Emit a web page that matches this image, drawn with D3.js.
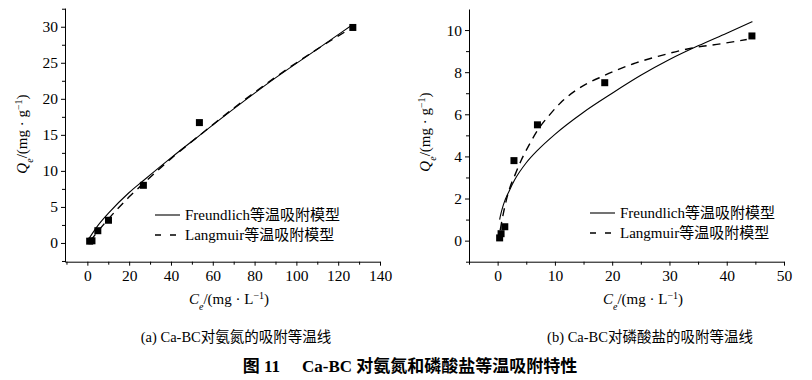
<!DOCTYPE html>
<html>
<head>
<meta charset="utf-8">
<script src="https://cdn.jsdelivr.net/npm/d3@7/dist/d3.min.js"></script>
<style>
  body { margin: 0; background: #fff; }
  svg text { font-family: "Liberation Serif", "Times New Roman", "Noto Sans CJK SC", serif; fill: #000; }
</style>
</head>
<body>
<div id="wrapper"></div>
<script>
// (a) ammonia nitrogen
const nitrogenCe = [1.1, 2.2, 5.0, 10.1, 26.8, 53.6, 127.0]
const nitrogenQe = [0.25, 0.3, 1.7, 3.15, 8.0, 16.7, 29.9]
const nFreundCe = [1, 5, 10, 20, 27, 40, 54, 70, 90, 110, 127]
const nFreundQe = [0.7, 2.4, 4.1, 7.0, 8.7, 11.8, 15.0, 18.6, 22.9, 26.9, 30.3]
const nLangCe = [1.5, 5, 10, 20, 27, 40, 54, 70, 90, 110, 125]
const nLangQe = [0.3, 1.6, 3.3, 6.4, 8.3, 11.7, 15.0, 18.7, 23.0, 26.9, 29.6]

// (b) phosphate
const phosphateCe = [0.35, 0.6, 1.25, 2.85, 6.95, 18.7, 44.4]
const phosphateQe = [0.13, 0.33, 0.66, 3.8, 5.5, 7.5, 9.72]
const pFreundCe = [0.35, 0.5, 1, 2, 3, 5, 7, 10, 15, 20, 25, 30, 35, 40, 44.5]
const pFreundQe = [1.0, 1.2, 1.7, 2.35, 2.9, 3.7, 4.3, 5.05, 6.1, 7.0, 7.85, 8.6, 9.25, 9.85, 10.4]
const pLangCe = [0.45, 1, 2, 3, 4, 5.5, 7, 9, 11, 14, 18.7, 23.7, 28, 34, 39, 43.5]
const pLangQe = [0.5, 1.3, 2.4, 3.1, 3.75, 4.55, 5.25, 5.95, 6.55, 7.2, 7.85, 8.4, 8.75, 9.15, 9.35, 9.55]

// tick values
const aXMajor = [0, 20, 40, 60, 80, 100, 120, 140]
const aXMinor = [-10, 10, 30, 50, 70, 90, 110, 130]
const aYMajor = [0, 5, 10, 15, 20, 25, 30]
const aYMinor = [-2.5, 2.5, 7.5, 12.5, 17.5, 22.5, 27.5, 32.5]
const bXMajor = [0, 10, 20, 30, 40, 50]
const bXMinor = [-5, 5, 15, 25, 35, 45]
const bYMajor = [0, 2, 4, 6, 8, 10]
const bYMinor = [-1, 1, 3, 5, 7, 9]

const legendLabels = ["Freundlich等温吸附模型", "Langmuir等温吸附模型"]
const captions = ["(a) Ca-BC对氨氮的吸附等温线", "(b) Ca-BC对磷酸盐的吸附等温线"]

const zip = (xs, ys) => xs.map((x, i) => [x, ys[i]])

function drawCharts() {
  const dimensions = { width: 812, height: 380 }

  const wrapper = d3.select("#wrapper")
    .append("svg")
    .attr("width", dimensions.width)
    .attr("height", dimensions.height)

  const panels = [
    {
      xDomain: [-10.7, 140], xRange: [65, 380],
      yDomain: [-2.6, 32.6], yRange: [261.7, 8],
      xMajor: aXMajor, xMinor: aXMinor, yMajor: aYMajor, yMinor: aYMinor,
      points: zip(nitrogenCe, nitrogenQe),
      freund: zip(nFreundCe, nFreundQe),
      lang: zip(nLangCe, nLangQe),
      legend: { x: 155, y: 215 },
      yLabel: { x: 22, y: 134 },
      xLabelX: 229,
      caption: { x: 236, text: captions[0] },
    },
    {
      xDomain: [-5, 50], xRange: [469, 784],
      yDomain: [-1, 11], yRange: [261.7, 9],
      xMajor: bXMajor, xMinor: bXMinor, yMajor: bYMajor, yMinor: bYMinor,
      points: zip(phosphateCe, phosphateQe),
      freund: zip(pFreundCe, pFreundQe),
      lang: zip(pLangCe, pLangQe),
      legend: { x: 590, y: 213 },
      yLabel: { x: 425, y: 132 },
      xLabelX: 643,
      caption: { x: 650, text: captions[1] },
    },
  ]

  panels.forEach(p => drawPanel(wrapper, p))

  // figure title
  const title = wrapper.append("text")
    .attr("x", 410)
    .attr("y", 372)
    .attr("text-anchor", "middle")
    .attr("font-size", 17)
    .attr("font-weight", "bold")
  title.append("tspan").text("图 11")
  title.append("tspan").attr("dx", 22).text("Ca-BC 对氨氮和磷酸盐等温吸附特性")
}

function drawPanel(svg, p) {
  const g = svg.append("g")

  const xScale = d3.scaleLinear().domain(p.xDomain).range(p.xRange)
  const yScale = d3.scaleLinear().domain(p.yDomain).range(p.yRange)

  const x0 = p.xRange[0]
  const y0 = p.yRange[0]

  // minor ticks
  g.append("g")
    .attr("transform", `translate(0,${y0})`)
    .call(d3.axisBottom(xScale).tickValues(p.xMinor).tickSize(3).tickFormat(""))
    .call(a => a.select(".domain").remove())
  g.append("g")
    .attr("transform", `translate(${x0},0)`)
    .call(d3.axisLeft(yScale).tickValues(p.yMinor).tickSize(3).tickFormat(""))
    .call(a => a.select(".domain").remove())

  // major axes
  const xAxis = g.append("g")
    .attr("transform", `translate(0,${y0})`)
    .call(d3.axisBottom(xScale).tickValues(p.xMajor).tickSize(4).tickSizeOuter(0).tickPadding(4))
  const yAxis = g.append("g")
    .attr("transform", `translate(${x0},0)`)
    .call(d3.axisLeft(yScale).tickValues(p.yMajor).tickSize(4).tickSizeOuter(0).tickPadding(3))

  ;[xAxis, yAxis].forEach(a => {
    a.attr("font-family", null).attr("font-size", 15.5)
    a.selectAll("line, path").attr("stroke", "#000").attr("stroke-width", 1)
  })

  // fitted curves
  const lineGenerator = d3.line()
    .x(d => xScale(d[0]))
    .y(d => yScale(d[1]))
    .curve(d3.curveMonotoneX)

  g.append("path")
    .attr("d", lineGenerator(p.freund))
    .attr("fill", "none")
    .attr("stroke", "#000")
    .attr("stroke-width", 1.1)

  g.append("path")
    .attr("d", lineGenerator(p.lang))
    .attr("fill", "none")
    .attr("stroke", "#000")
    .attr("stroke-width", 1.4)
    .attr("stroke-dasharray", "8,6")

  // measured points
  const s = 7
  g.selectAll("rect.pt")
    .data(p.points)
    .join("rect")
    .attr("class", "pt")
    .attr("x", d => xScale(d[0]) - s / 2)
    .attr("y", d => yScale(d[1]) - s / 2)
    .attr("width", s)
    .attr("height", s)
    .attr("fill", "#000")

  // legend
  const styles = [null, "6,9"]
  legendLabels.forEach((label, i) => {
    const ly = p.legend.y + i * 20
    g.append("line")
      .attr("x1", p.legend.x).attr("x2", p.legend.x + 25)
      .attr("y1", ly).attr("y2", ly)
      .attr("stroke", "#000")
      .attr("stroke-width", i ? 1.4 : 1.1)
      .attr("stroke-dasharray", styles[i])
    g.append("text")
      .attr("x", p.legend.x + 30)
      .attr("y", ly)
      .attr("dy", "0.35em")
      .attr("font-size", 15)
      .text(label)
  })

  // y label
  const yl = g.append("text")
    .attr("transform", `translate(${p.yLabel.x},${p.yLabel.y}) rotate(-90)`)
    .attr("text-anchor", "middle")
    .attr("dy", "0.35em")
    .attr("font-size", 15)
  yl.append("tspan").attr("font-style", "italic").text("Q")
  yl.append("tspan").attr("font-style", "italic").attr("font-size", 10).attr("baseline-shift", "sub").text("e")
  yl.append("tspan").text("/(mg · g")
  yl.append("tspan").attr("font-size", 10).attr("baseline-shift", "super").text("−1")
  yl.append("tspan").text(")")

  // x label
  const xl = g.append("text")
    .attr("x", p.xLabelX)
    .attr("y", 304)
    .attr("text-anchor", "middle")
    .attr("font-size", 15)
  xl.append("tspan").attr("font-style", "italic").text("C")
  xl.append("tspan").attr("font-style", "italic").attr("font-size", 10).attr("baseline-shift", "sub").text("e")
  xl.append("tspan").text("/(mg · L")
  xl.append("tspan").attr("font-size", 10).attr("baseline-shift", "super").text("−1")
  xl.append("tspan").text(")")

  // caption
  g.append("text")
    .attr("x", p.caption.x)
    .attr("y", 342)
    .attr("text-anchor", "middle")
    .attr("font-size", 14.5)
    .text(p.caption.text)
}

drawCharts()
</script>
</body>
</html>
